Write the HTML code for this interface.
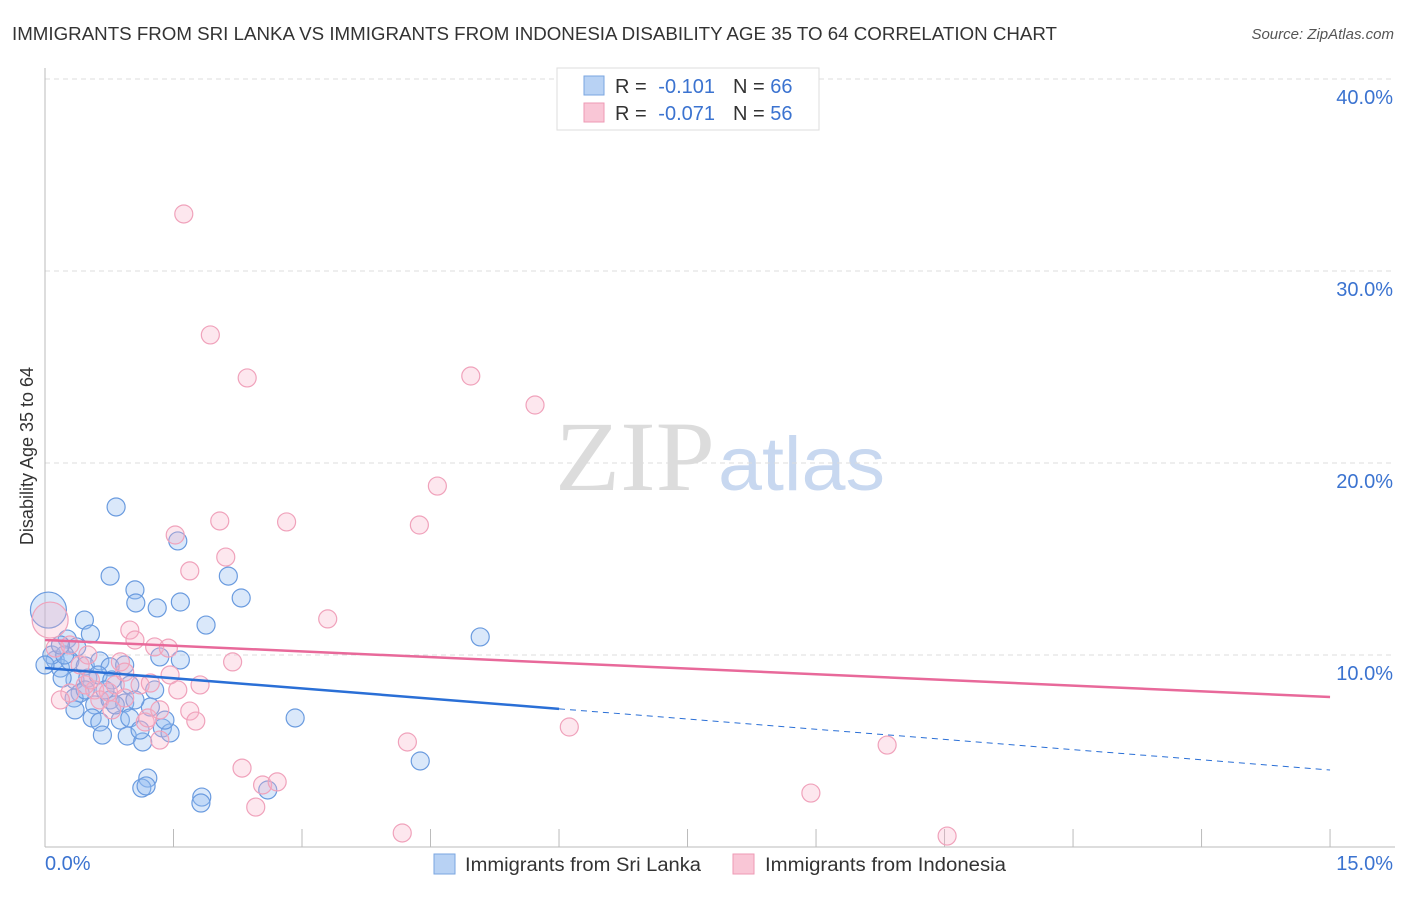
<!DOCTYPE html>
<html><head><meta charset="utf-8"><style>
body{margin:0;background:#fff;font-family:"Liberation Sans",sans-serif;}
</style></head><body>
<svg id="chart" width="1406" height="892" xmlns="http://www.w3.org/2000/svg" style="font-family:'Liberation Sans',sans-serif">
<text x="12" y="40" font-size="18" fill="#333" textLength="1045" lengthAdjust="spacingAndGlyphs">IMMIGRANTS FROM SRI LANKA VS IMMIGRANTS FROM INDONESIA DISABILITY AGE 35 TO 64 CORRELATION CHART</text>
<text x="1394" y="39" font-size="15" fill="#555" font-style="italic" text-anchor="end">Source: ZipAtlas.com</text>
<text x="555" y="490" font-size="100" textLength="160" lengthAdjust="spacingAndGlyphs" fill="#dcdcdc" font-family="Liberation Serif">ZIP</text>
<text x="718" y="490" font-size="76" textLength="167" lengthAdjust="spacingAndGlyphs" fill="#c8d8f0">atlas</text>
<text transform="translate(33,456) rotate(-90)" font-size="18" fill="#333" text-anchor="middle">Disability Age 35 to 64</text>
<g id="grid"></g><g id="axes"></g><g id="pts"></g><g id="trend"></g>
<g>
<rect x="557" y="68" width="262" height="62" fill="#fff" stroke="#ddd"/>
<rect x="584" y="76" width="20" height="19" fill="#b8d2f4" stroke="#7aa6e0"/>
<rect x="584" y="103" width="20" height="19" fill="#f9c6d6" stroke="#ee9ab4"/>
<text x="615" y="93" font-size="20" fill="#333">R =</text>
<text x="715" y="93" font-size="20" fill="#3b73d0" text-anchor="end">-0.101</text>
<text x="733" y="93" font-size="20" fill="#333">N = <tspan fill="#3b73d0">66</tspan></text>
<text x="615" y="120" font-size="20" fill="#333">R =</text>
<text x="715" y="120" font-size="20" fill="#3b73d0" text-anchor="end">-0.071</text>
<text x="733" y="120" font-size="20" fill="#333">N = <tspan fill="#3b73d0">56</tspan></text>
</g>
<g>
<rect x="434" y="854" width="21" height="20" fill="#b8d2f4" stroke="#7aa6e0"/>
<text x="465" y="871" font-size="19" fill="#333" textLength="236" lengthAdjust="spacingAndGlyphs">Immigrants from Sri Lanka</text>
<rect x="733" y="854" width="21" height="20" fill="#f9c6d6" stroke="#ee9ab4"/>
<text x="765" y="871" font-size="19" fill="#333" textLength="241" lengthAdjust="spacingAndGlyphs">Immigrants from Indonesia</text>
</g>
</svg>
<script>
const blueX=[0.83,1.55,0.76,2.14,1.05,2.29,1.06,1.31,1.58,1.88,0.46,0.53,0.26,0.37,0.04,0.12,0.18,0.29,0.47,0.64,0.76,0.93,1.34,1.58,0.35,0.50,0.62,0.78,0.99,1.28,0.20,0.41,0.58,0.76,0.93,1.23,0.34,0.55,0.64,0.88,0.99,1.37,1.46,0.96,1.14,5.08,2.92,4.38,1.20,1.13,1.18,1.83,1.82,2.60,0.08,0.23,0.70,0.82,1.11,0.18,0.0,1.05,0.35,0.47,0.67,1.40];
const blueY=[17.71,15.94,14.11,14.11,13.39,12.97,12.71,12.45,12.76,11.56,11.82,11.09,10.83,10.42,12.34,9.74,9.32,9.69,9.43,9.69,9.38,9.48,9.90,9.74,8.70,8.80,8.96,8.70,8.44,8.18,8.80,8.02,7.40,7.66,7.50,7.29,7.76,6.72,6.51,6.61,6.72,6.20,5.94,5.78,5.47,10.94,6.72,4.48,3.59,3.07,3.18,2.60,2.29,2.97,10.00,10.00,8.18,7.40,6.09,10.52,9.48,7.66,7.14,8.18,5.83,6.61];
const pinkX=[1.62,1.93,2.36,4.97,5.72,4.58,2.04,2.82,4.37,1.52,2.11,1.69,3.30,0.99,1.05,1.28,1.44,2.19,0.88,0.06,0.12,0.29,0.41,0.47,0.58,0.74,0.82,1.11,1.23,1.46,1.55,1.81,0.29,0.64,0.93,1.69,1.76,1.17,1.20,1.34,6.12,4.23,9.83,2.30,2.54,2.71,2.46,8.94,4.17,10.53,0.18,0.53,1.34,0.93,0.78,0.50];
const pinkY=[32.97,26.67,24.43,24.53,23.02,18.80,16.98,16.93,16.77,16.25,15.10,14.38,11.88,11.30,10.78,10.42,10.36,9.64,9.64,11.82,10.36,10.52,9.48,8.44,8.18,8.07,8.44,8.44,8.54,8.96,8.18,8.44,8.02,7.66,7.76,7.08,6.56,6.51,6.72,5.57,6.25,5.47,5.31,4.11,3.23,3.39,2.08,2.81,0.73,0.57,7.66,8.70,7.14,9.11,7.14,10.00];
const blueTrend=[9.32,4.01], pinkTrend=[10.78,7.81];
const yTicks=[10,20,30,40], yTickLabels=["10.0%","20.0%","30.0%","40.0%"];
const xTicks=[0,1.5,3,4.5,6,7.5,9,10.5,12,13.5,15];
const NS="http://www.w3.org/2000/svg";
const sx=v=>45+v*85.67, sy=v=>847-v*19.2;
function mk(p,t,a){const e=document.createElementNS(NS,t);for(const k in a)e.setAttribute(k,a[k]);document.getElementById(p).appendChild(e);return e;}
yTicks.forEach((t,i)=>{
 const l=mk('grid','line',{x1:45,x2:1395,y1:sy(t),y2:sy(t),stroke:'#ddd','stroke-dasharray':'5,4'});
 
 
 const tx=mk('grid','text',{x:1393,y:sy(t)+25,'font-size':20,fill:'#3b73d0','text-anchor':'end'});
 tx.textContent=yTickLabels[i];
 
 
});
let a=mk('axes','line',{x1:45,x2:45,y1:68,y2:847,stroke:'#bbb'});


a=mk('axes','line',{x1:45,x2:1395,y1:847,y2:847,stroke:'#bbb'});


xTicks.forEach(t=>{const l=mk('axes','line',{x1:sx(t),x2:sx(t),y1:829,y2:847,stroke:'#bbb'});
 
 });
let tl=mk('axes','text',{x:45,y:870,'font-size':20,fill:'#3b73d0'});tl.textContent='0.0%';


tl=mk('axes','text',{x:1393,y:870,'font-size':20,fill:'#3b73d0','text-anchor':'end'});tl.textContent='15.0%';


function pts(X,Y,fill,stroke,name){X.forEach((x,i)=>{const big=(x<0.1&&Y[i]>11);
 const c=mk('pts','circle',{cx:sx(x),cy:sy(Y[i]),r:big?18:9,fill,stroke,'stroke-width':1.2});
 
 });}
pts(blueX,blueY,'rgba(150,190,240,0.35)','#6a9bdf','point-sri-lanka');
pts(pinkX,pinkY,'rgba(248,175,198,0.3)','#f0a2bb','point-indonesia');
const bAt=x=>blueTrend[0]+(blueTrend[1]-blueTrend[0])*x/15;
let t=mk('trend','line',{x1:sx(0),y1:sy(bAt(0)),x2:sx(6),y2:sy(bAt(6)),stroke:'#2a6fd6','stroke-width':2.5});


t=mk('trend','line',{x1:sx(6),y1:sy(bAt(6)),x2:sx(15),y2:sy(bAt(15)),stroke:'#2a6fd6','stroke-width':1,'stroke-dasharray':'6,5'});


t=mk('trend','line',{x1:sx(0),y1:sy(pinkTrend[0]),x2:sx(15),y2:sy(pinkTrend[1]),stroke:'#e8699a','stroke-width':2.5});


</script>
</body></html>
